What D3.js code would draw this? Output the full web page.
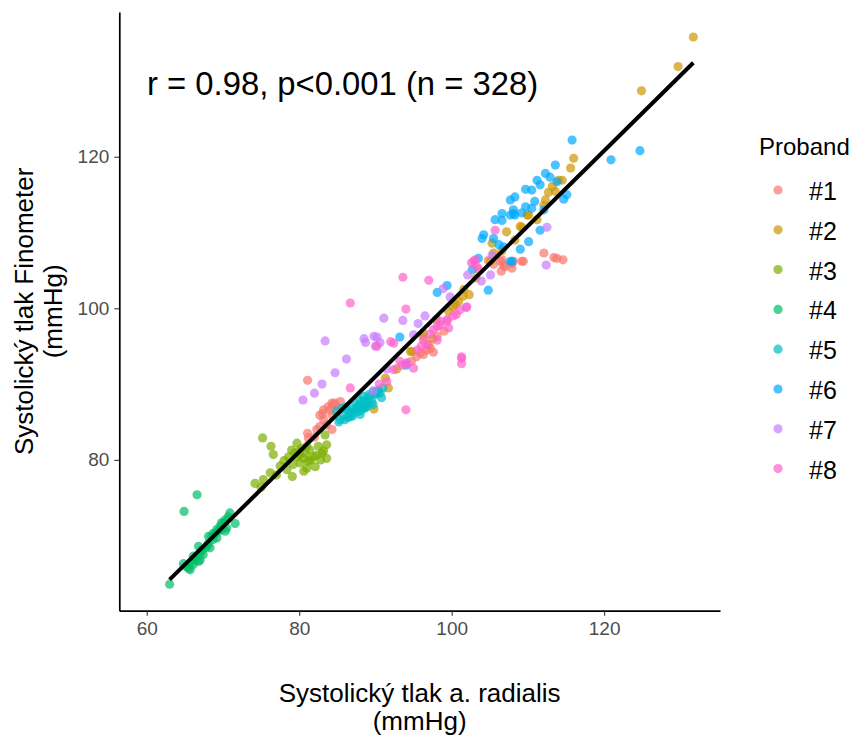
<!DOCTYPE html>
<html lang="cs">
<head>
<meta charset="UTF-8">
<title>Systolický tlak</title>
<style>
  body { margin: 0; background: #fff; }
  text { font-family: "Liberation Sans", Arial, sans-serif; }
</style>
</head>
<body>
<script src="https://d3js.org/d3.v7.min.js"></script>
<script>
// data: [a. radialis, Finometer] per proband
var proband1 = [[81.1,90.5],[82.7,85.9],[83.2,86.6],[84.1,86.6],[84.5,87.3],[84.7,87.5],[84.3,85.9],[83.2,85.3],[82.7,84.4],[82.3,84.0],
  [81.1,83.5],[81.2,82.9],[83.6,84.6],[84.3,84.0],[85.2,86.8],[85.4,87.7],[83.8,87.0],[83.1,86.1],[84.3,87.5],[82.0,83.0],
  [95.9,94.1],[96.7,94.5],[97.2,94.7],[95.4,93.6],[96.3,93.9],[97.0,95.2],[98.1,96.3],[94.7,93.0],[97.6,94.2],[99.0,97.0],
  [106.4,106.2],[107.0,105.5],[107.9,105.9],[109.4,106.2],[112.1,107.3],[113.4,106.7],[113.8,106.6],[114.6,106.4],[106.5,104.9],
  [107.9,105.3],[106.6,106.4],[108.1,106.2],[109.2,106.2],[106.8,105.7],[104.8,106.3],[103.5,105.2],[105.5,105.8]];
var proband2 = [[131.7,135.8],[129.7,131.9],[124.9,128.7],[116.0,119.8],[115.6,118.5],[114.5,116.9],[114.0,116.9],[113.2,116.1],
  [112.7,115.3],[113.6,115.4],[112.3,114.3],[112.1,113.6],[110.1,112.3],[111.2,111.7],[109.2,110.7],[107.2,110.1],[105.3,108.6],
  [106.6,107.6],[109.9,112.3],[109.0,110.8],[105.5,107.3],[105.1,106.2],[101.6,102.5],[102.3,101.8],[100.9,100.9],[100.2,100.2],
  [99.6,99.6],[94.6,94.3],[96.3,96.7],[91.3,90.8],[91.7,89.5],[89.8,86.7],[94.8,94.3],[96.3,96.2],[101.5,101.6],[100.5,100.5],
  [98.0,98.5],[103.2,104.0],[92.8,92.0],[108.3,109.0],[97.5,96.0]];
var proband3 = [[75.2,82.9],[76.3,81.8],[76.6,80.7],[74.2,76.9],[75.3,77.4],[76.2,78.3],[75.0,76.4],[78.0,79.9],[78.4,78.7],[79.0,81.3],
  [79.2,79.4],[79.1,77.8],[79.7,82.2],[80.1,80.7],[80.6,80.2],[80.6,78.5],[81.0,81.8],[81.2,79.8],[81.4,81.3],[81.9,80.4],
  [82.1,79.1],[82.5,81.8],[83.0,80.9],[83.4,83.3],[83.6,82.0],[83.6,80.2],[80.1,79.6],[79.7,80.4],[80.8,80.9],[77.5,79.2],
  [78.6,80.4],[81.5,80.0],[82.3,80.6],[80.3,81.5],[79.4,80.9],[83.2,81.2],[81.0,78.9],[82.8,80.0],[77.0,78.0],[80.0,81.1]];
var proband4 = [[63.0,63.6],[66.6,75.4],[64.9,73.2],[64.8,66.3],[65.5,65.7],[65.7,65.5],[66.1,66.2],[66.3,66.8],[66.6,67.3],[66.8,66.6],
  [67.0,67.7],[67.2,68.1],[67.4,67.5],[67.9,68.6],[68.1,69.0],[68.3,68.4],[68.5,69.9],[68.7,69.5],[69.0,70.3],[69.2,69.7],
  [69.4,70.6],[69.6,71.2],[69.8,70.8],[70.1,71.7],[70.3,72.1],[70.5,71.0],[70.7,72.5],[70.9,73.0],[71.6,71.6],[66.8,68.6],
  [66.1,67.3],[65.2,65.9],[67.7,68.4],[68.7,70.3],[69.8,71.7],[70.3,70.6],[68.1,69.9],[67.0,66.8],[65.7,66.4],[69.2,70.8]];
var proband5 = [[85.4,85.3],[85.8,85.9],[86.5,86.4],[86.9,86.6],[87.1,86.2],[87.6,87.0],[88.0,87.3],[88.4,87.7],[88.9,87.9],[88.9,87.0],
  [89.3,88.4],[89.5,87.7],[90.0,88.6],[90.2,89.0],[90.6,88.8],[86.7,85.7],[86.0,85.3],[88.2,86.6],[87.8,86.4],[88.6,86.8],
  [89.7,87.3],[84.9,86.4],[85.6,86.8],[86.2,87.0],[86.7,86.2],[87.3,87.5],[88.0,87.9],[88.4,88.4],[88.6,87.0],[89.1,88.6],
  [89.7,89.0],[90.2,88.8],[90.4,89.2],[87.0,85.8],[88.0,86.0],[89.0,87.5],[85.2,85.0],[86.4,85.6],[87.5,86.8],[91.0,89.5],[90.8,88.2]];
var proband6 = [[115.8,122.2],[120.9,119.6],[124.7,120.8],[113.6,118.9],[112.3,117.8],[111.2,116.9],[111.6,116.3],[110.5,115.6],
  [109.7,115.7],[108.3,114.7],[107.7,114.3],[109.7,113.4],[108.1,113.0],[107.7,112.3],[106.6,112.5],[105.7,111.7],[108.3,112.3],
  [110.5,113.2],[112.1,113.0],[111.6,110.3],[114.7,114.4],[115.1,115.0],[113.8,116.7],[104.2,109.7],[104.0,109.2],[105.5,109.2],
  [106.2,108.4],[106.8,108.1],[109.0,107.8],[110.1,108.8],[107.7,106.2],[103.5,106.6],[108.1,112.5],[107.9,106.2],[104.8,102.4],
  [99.4,103.0],[98.1,102.1],[93.2,96.2],[102.7,105.1],[94.0,92.5],[106.6,111.6],[110.9,114.1],[112.9,117.3],[109.2,112.6]];
var proband7 = [[83.4,95.7],[80.5,87.9],[82.0,88.8],[83.0,90.0],[84.7,91.5],[86.2,93.3],[88.7,95.5],[89.8,96.3],[90.2,96.2],[90.6,95.5],
  [89.7,89.1],[94.1,92.7],[91.1,98.7],[93.6,98.4],[95.6,98.0],[98.9,102.6],[105.1,104.4],[112.5,110.7],[112.4,105.7],[101.9,100.1],
  [102.1,104.4],[105.3,107.0],[88.5,96.0],[90.0,95.0],[96.5,99.0],[99.8,101.5],[103.9,103.6],[91.5,92.0],[95.0,96.5]];
var proband8 = [[93.6,104.1],[97.0,103.7],[86.7,100.7],[94.0,99.9],[90.2,95.0],[92.4,95.4],[86.7,89.5],[94.0,86.6],[101.3,93.4],[101.3,92.7],
  [90.5,90.0],[92.4,91.9],[95.0,92.1],[93.5,92.5],[96.3,95.8],[96.7,95.2],[98.1,97.6],[98.5,98.3],[99.4,98.3],[99.6,97.4],
  [101.1,99.8],[102.0,100.2],[102.6,106.0],[103.3,105.5],[105.7,110.3],[102.9,106.2],[97.6,97.2],[98.5,97.8],[99.4,98.5],[98.1,95.8],
  [92.0,95.6],[101.3,93.6],[91.5,90.3],[93.2,93.0],[94.1,92.8],[97.2,96.6],[100.2,99.0],[103.1,106.4],[95.5,94.5],[96.0,95.0],[100.6,99.2]];

var probandLabels = ["#1", "#2", "#3", "#4", "#5", "#6", "#7", "#8"];
var probandColors = ["#F8766D", "#CD9600", "#7CAE00", "#00BE67", "#00BFC4", "#00A9FF", "#C77CFF", "#FF61CC"];
var xTicks = [60, 80, 100, 120];
var yTicks = [80, 100, 120];
// lm fit line endpoints
var fitX = [63.0, 131.7];
var fitY = [64.2, 132.4];
var statsLabel = "r = 0.98, p<0.001 (n = 328)";

var width = 857, height = 738;
var mLeft = 119.3, mRight = 720, mTop = 12, mBottom = 610.7;

var svg = d3.select("body").append("svg")
    .attr("width", width)
    .attr("height", height);

var x = d3.scaleLinear().domain([56.4, 135.2]).range([mLeft, mRight]);
var y = d3.scaleLinear().domain([60.1, 139.1]).range([mBottom, mTop]);

var groups = [proband1, proband2, proband3, proband4, proband5, proband6, proband7, proband8];
var points = [];
groups.forEach(function(g, i) {
    g.forEach(function(d) { points.push({x: d[0], y: d[1], p: i}); });
});

var color = d3.scaleOrdinal().domain(d3.range(8)).range(probandColors);

svg.append("g").selectAll("circle")
    .data(points)
    .enter().append("circle")
    .attr("cx", function(d) { return x(d.x); })
    .attr("cy", function(d) { return y(d.y); })
    .attr("r", 4.6)
    .attr("fill", function(d) { return color(d.p); })
    .attr("fill-opacity", 0.7);

svg.append("line")
    .attr("x1", x(fitX[0])).attr("y1", y(fitY[0]))
    .attr("x2", x(fitX[1])).attr("y2", y(fitY[1]))
    .attr("stroke", "#000")
    .attr("stroke-width", 4);

// axes
var xAxis = svg.append("g")
    .attr("transform", "translate(0," + mBottom + ")")
    .call(d3.axisBottom(x).tickValues(xTicks).tickSize(5).tickSizeOuter(0).tickPadding(6));
var yAxis = svg.append("g")
    .attr("transform", "translate(" + mLeft + ",0)")
    .call(d3.axisLeft(y).tickValues(yTicks).tickSize(5).tickSizeOuter(0).tickPadding(5));

[xAxis, yAxis].forEach(function(a) {
    a.select(".domain").attr("stroke", "#000").attr("stroke-width", 1.7);
    a.selectAll(".tick line").attr("stroke", "#333").attr("stroke-width", 1.1);
    a.selectAll(".tick text")
        .attr("fill", "#4D4D4D")
        .style("font-size", "19px")
        .style("font-family", "'Liberation Sans', Arial, sans-serif");
});

svg.append("text")
    .attr("x", 147)
    .attr("y", 95)
    .style("font-size", "32.8px")
    .text(statsLabel);

// axis titles
var xTitle = svg.append("text")
    .attr("text-anchor", "middle")
    .style("font-size", "26px");
xTitle.append("tspan").attr("x", (mLeft + mRight) / 2).attr("y", 702).text("Systolický tlak a. radialis");
xTitle.append("tspan").attr("x", (mLeft + mRight) / 2).attr("y", 730).text("(mmHg)");

var yTitle = svg.append("text")
    .attr("text-anchor", "middle")
    .attr("transform", "translate(0," + ((mTop + mBottom) / 2) + ") rotate(-90)")
    .style("font-size", "26px");
yTitle.append("tspan").attr("x", 0).attr("y", 33).text("Systolický tlak Finometer");
yTitle.append("tspan").attr("x", 0).attr("y", 62).text("(mmHg)");

// legend
var legend = svg.append("g");
legend.append("text")
    .attr("x", 759)
    .attr("y", 155)
    .style("font-size", "24px")
    .text("Proband");

var item = legend.selectAll(".item")
    .data(probandLabels)
    .enter().append("g")
    .attr("transform", function(d, i) { return "translate(0," + (190 + i * 39.8) + ")"; });
item.append("circle")
    .attr("cx", 778)
    .attr("cy", 0)
    .attr("r", 4.6)
    .attr("fill", function(d, i) { return color(i); })
    .attr("fill-opacity", 0.7);
item.append("text")
    .attr("x", 809)
    .attr("y", 10)
    .style("font-size", "25px")
    .text(function(d) { return d; });
</script>
</body>
</html>
